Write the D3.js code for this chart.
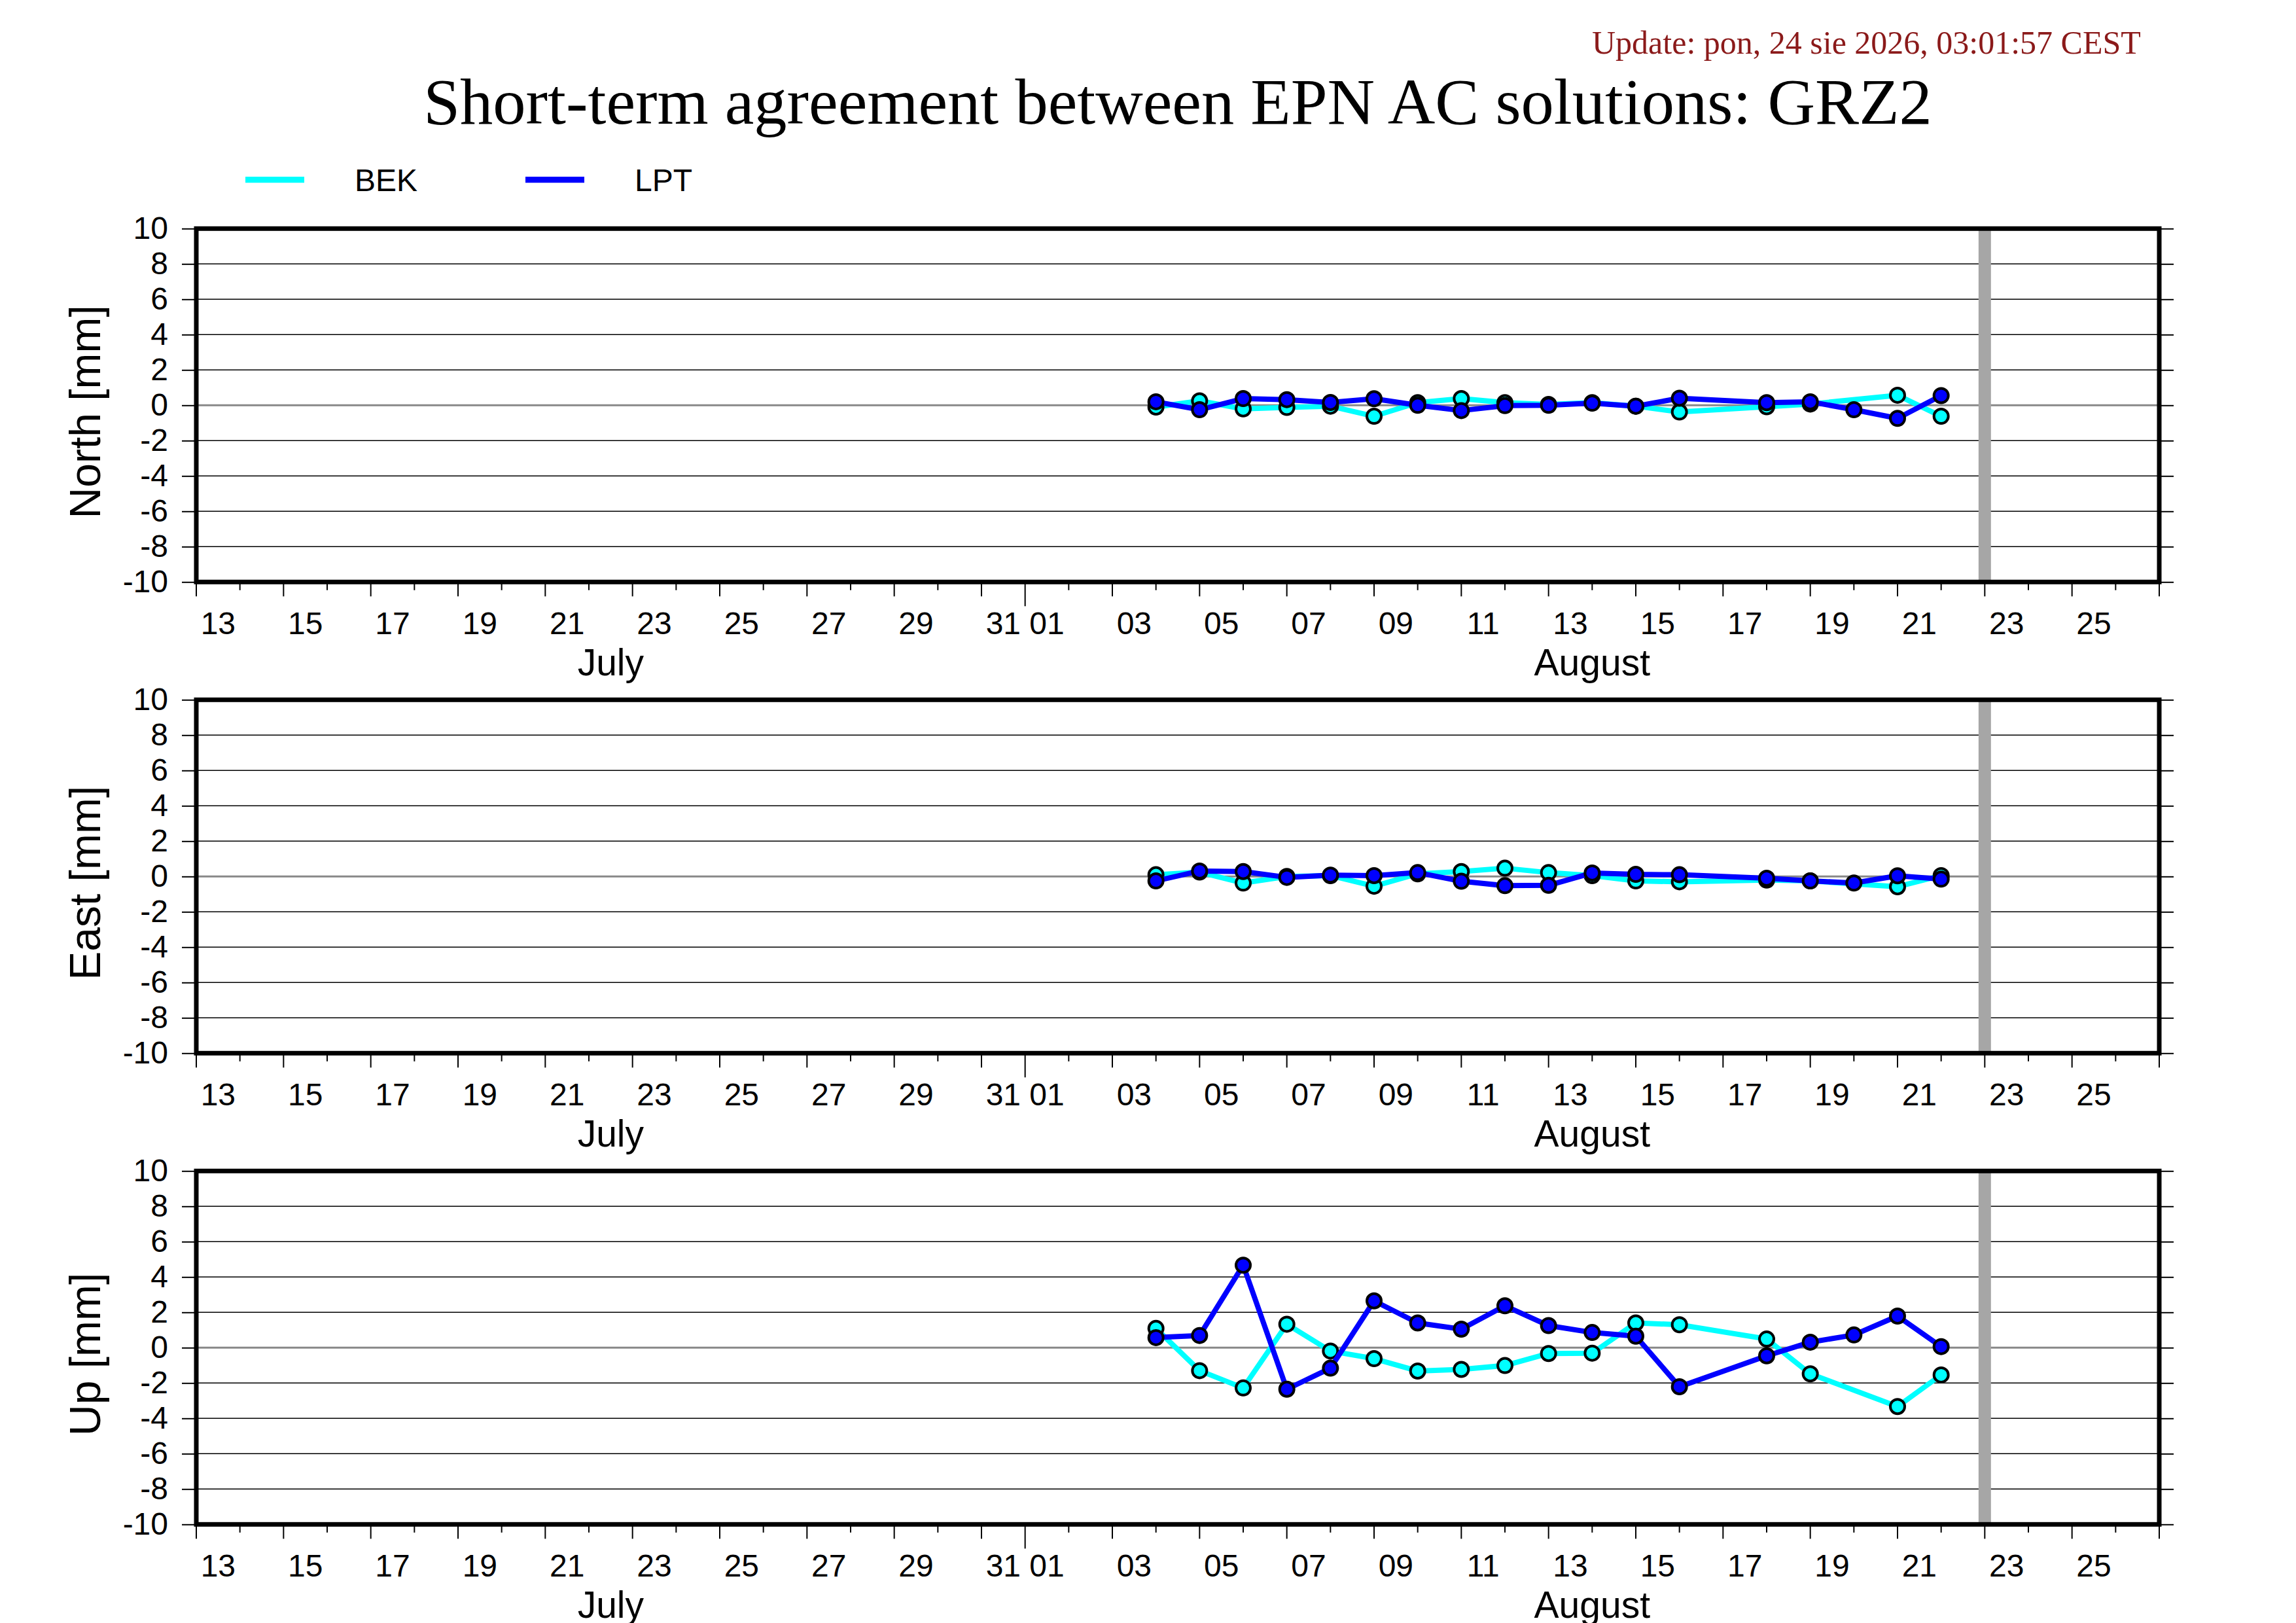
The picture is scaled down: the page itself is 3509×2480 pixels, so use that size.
<!DOCTYPE html>
<html>
<head>
<meta charset="utf-8">
<script src="https://cdn.jsdelivr.net/npm/d3@7"></script>
<style>
  html, body { margin: 0; padding: 0; background: #ffffff; }
  svg { display: block; }
</style>
</head>
<body>
<script>
// ---------------- DATA ----------------
const seriesNames = ["BEK", "LPT"];
const seriesColors = ["#00ffff", "#0000ff"];
const panelNames = ["North [mm]", "East [mm]", "Up [mm]"];
const yTicks = [-10, -8, -6, -4, -2, 0, 2, 4, 6, 8, 10];
const monthNames = ["July", "August"];

const bekDates = ["2026-08-04","2026-08-05","2026-08-06","2026-08-07","2026-08-08","2026-08-09","2026-08-10",
  "2026-08-11","2026-08-12","2026-08-13","2026-08-14","2026-08-15","2026-08-16","2026-08-18","2026-08-19",
  "2026-08-21","2026-08-22"];
const lptDates = ["2026-08-04","2026-08-05","2026-08-06","2026-08-07","2026-08-08","2026-08-09","2026-08-10",
  "2026-08-11","2026-08-12","2026-08-13","2026-08-14","2026-08-15","2026-08-16","2026-08-18","2026-08-19",
  "2026-08-20","2026-08-21","2026-08-22"];

const bekNorth = [-0.10, 0.25, -0.20, -0.12, -0.05, -0.62, 0.15, 0.38, 0.15, 0.05, 0.15, -0.05, -0.38, -0.08, 0.07, 0.57, -0.62];
const lptNorth = [0.20, -0.25, 0.38, 0.32, 0.16, 0.37, 0.00, -0.30, -0.02, 0.00, 0.12, -0.05, 0.40, 0.15, 0.20, -0.25, -0.74, 0.55];

const bekEast = [0.10, 0.25, -0.37, 0.00, 0.05, -0.55, 0.15, 0.28, 0.47, 0.22, 0.05, -0.25, -0.30, -0.20, -0.25, -0.58, 0.05];
const lptEast = [-0.25, 0.31, 0.28, -0.05, 0.08, 0.05, 0.22, -0.27, -0.52, -0.50, 0.20, 0.12, 0.10, -0.10, -0.25, -0.37, 0.04, -0.15];

const bekUp = [1.09, -1.30, -2.28, 1.33, -0.19, -0.62, -1.32, -1.23, -1.01, -0.33, -0.31, 1.40, 1.30, 0.49, -1.48, -3.33, -1.54];
const lptUp = [0.57, 0.69, 4.67, -2.35, -1.16, 2.65, 1.40, 1.05, 2.37, 1.25, 0.86, 0.65, -2.21, -0.46, 0.31, 0.72, 1.79, 0.06];

const xStart = "2026-07-13";
const xEnd = "2026-08-27";
const markerDate = "2026-08-23";

const titleText = "Short-term agreement between EPN AC solutions: GRZ2";
const updateText = "Update: pon, 24 sie 2026, 03:01:57 CEST";

// ---------------- LAYOUT ----------------
const W = 3509, H = 2480;
const left = 300, right = 3300;
const panelTops = [349.3, 1069.3, 1789.3];
const panelH = 540;
const sans = "'Liberation Sans', Arial, Helvetica, sans-serif";
const serif = "'Liberation Serif', 'Times New Roman', serif";

const parse = d3.utcParse("%Y-%m-%d");
const x = d3.scaleUtc().domain([parse(xStart), parse(xEnd)]).range([left, right]);

const svg = d3.select("body").append("svg")
  .attr("width", W).attr("height", H)
  .attr("viewBox", `0 0 ${W} ${H}`);

svg.append("rect").attr("width", W).attr("height", H).attr("fill", "#ffffff");

// header
svg.append("text")
  .attr("x", 2433).attr("y", 82)
  .attr("font-family", serif).attr("font-size", 50)
  .attr("fill", "#8b1a1a")
  .text(updateText);

svg.append("text")
  .attr("x", (left + right) / 2).attr("y", 189)
  .attr("text-anchor", "middle")
  .attr("font-family", serif).attr("font-size", 100.5)
  .attr("fill", "#000")
  .text(titleText);

// legend
const legendX = [375, 803];
seriesNames.forEach((name, i) => {
  svg.append("line")
    .attr("x1", legendX[i]).attr("x2", legendX[i] + 90)
    .attr("y1", 274.7).attr("y2", 274.7)
    .attr("stroke", seriesColors[i]).attr("stroke-width", 9.3);
  svg.append("text")
    .attr("x", legendX[i] + 167).attr("y", 291.7)
    .attr("font-family", sans).attr("font-size", 48)
    .attr("fill", "#000")
    .text(name);
});

const panelData = [
  [ {dates: bekDates, vals: bekNorth}, {dates: lptDates, vals: lptNorth} ],
  [ {dates: bekDates, vals: bekEast},  {dates: lptDates, vals: lptEast} ],
  [ {dates: bekDates, vals: bekUp},    {dates: lptDates, vals: lptUp} ]
];

const days = d3.utcDay.range(parse(xStart), d3.utcDay.offset(parse(xEnd), 1));
const labelDays = days.filter(d => d.getUTCDate() % 2 === 1 && d < parse(xEnd));
const monthStarts = [parse(xStart), parse("2026-08-01"), parse(xEnd)];

panelTops.forEach((top, p) => {
  const bottom = top + panelH;
  const y = d3.scaleLinear().domain([-10, 10]).range([bottom, top]);
  const g = svg.append("g");

  // grid lines
  g.selectAll("line.grid").data(yTicks.filter(v => v !== 0 && Math.abs(v) !== 10)).join("line")
    .attr("class", "grid")
    .attr("x1", left).attr("x2", right)
    .attr("y1", d => y(d)).attr("y2", d => y(d))
    .attr("stroke", "#000").attr("stroke-width", 1.4);
  g.append("line")
    .attr("x1", left).attr("x2", right)
    .attr("y1", y(0)).attr("y2", y(0))
    .attr("stroke", "#888888").attr("stroke-width", 3);

  // vertical marker
  g.append("line")
    .attr("x1", x(parse(markerDate))).attr("x2", x(parse(markerDate)))
    .attr("y1", top).attr("y2", bottom)
    .attr("stroke", "#a6a6a6").attr("stroke-width", 19);

  // series
  const line = d3.line().x(d => x(d.t)).y(d => y(d.v));
  panelData[p].forEach((s, i) => {
    const pts = s.dates.map((d, k) => ({t: parse(d), v: s.vals[k]}));
    g.append("path").datum(pts)
      .attr("d", line)
      .attr("fill", "none")
      .attr("stroke", seriesColors[i])
      .attr("stroke-width", 8)
      .attr("stroke-linejoin", "round");
    g.selectAll(null).data(pts).join("circle")
      .attr("cx", d => x(d.t)).attr("cy", d => y(d.v))
      .attr("r", 11)
      .attr("fill", seriesColors[i])
      .attr("stroke", "#000").attr("stroke-width", 4);
  });

  // y axes
  const yAxisL = d3.axisLeft(y).tickValues(yTicks).tickSize(22).tickPadding(21)
    .tickFormat(d => String(d));
  const ga = svg.append("g").attr("transform", `translate(${left},0)`).call(yAxisL);
  ga.select(".domain").remove();
  ga.selectAll(".tick line").attr("stroke", "#000").attr("stroke-width", 2);
  ga.selectAll(".tick text").attr("font-family", sans).attr("font-size", 48).attr("fill", "#000");

  const yAxisR = d3.axisRight(y).tickValues(yTicks).tickSize(22).tickFormat("");
  const gr = svg.append("g").attr("transform", `translate(${right},0)`).call(yAxisR);
  gr.select(".domain").remove();
  gr.selectAll(".tick line").attr("stroke", "#000").attr("stroke-width", 2);

  // x ticks
  svg.selectAll(null).data(days).join("line")
    .attr("x1", d => x(d)).attr("x2", d => x(d))
    .attr("y1", bottom)
    .attr("y2", d => {
      if (d.getUTCDate() === 1) return bottom + 37;
      return bottom + (d.getUTCDate() % 2 === 1 ? 22 : 12.5);
    })
    .attr("stroke", "#000").attr("stroke-width", 2);

  svg.selectAll(null).data(labelDays).join("text")
    .attr("x", d => x(d3.utcHour.offset(d, 12)))
    .attr("y", bottom + 80)
    .attr("text-anchor", "middle")
    .attr("font-family", sans).attr("font-size", 48)
    .attr("fill", "#000")
    .text(d => d3.utcFormat("%d")(d));

  monthNames.forEach((m, k) => {
    const cx = (x(monthStarts[k]) + x(monthStarts[k + 1])) / 2;
    svg.append("text")
      .attr("x", cx).attr("y", bottom + 143)
      .attr("text-anchor", "middle")
      .attr("font-family", sans).attr("font-size", 57)
      .attr("fill", "#000")
      .text(m);
  });

  // frame
  svg.append("rect")
    .attr("x", left).attr("y", top)
    .attr("width", right - left).attr("height", panelH)
    .attr("fill", "none").attr("stroke", "#000").attr("stroke-width", 7);

  // y title
  svg.append("text")
    .attr("transform", `translate(153,${(top + bottom) / 2 + 10}) rotate(-90)`)
    .attr("text-anchor", "middle")
    .attr("font-family", sans).attr("font-size", 66)
    .attr("fill", "#000")
    .text(panelNames[p]);
});
</script>
</body>
</html>
